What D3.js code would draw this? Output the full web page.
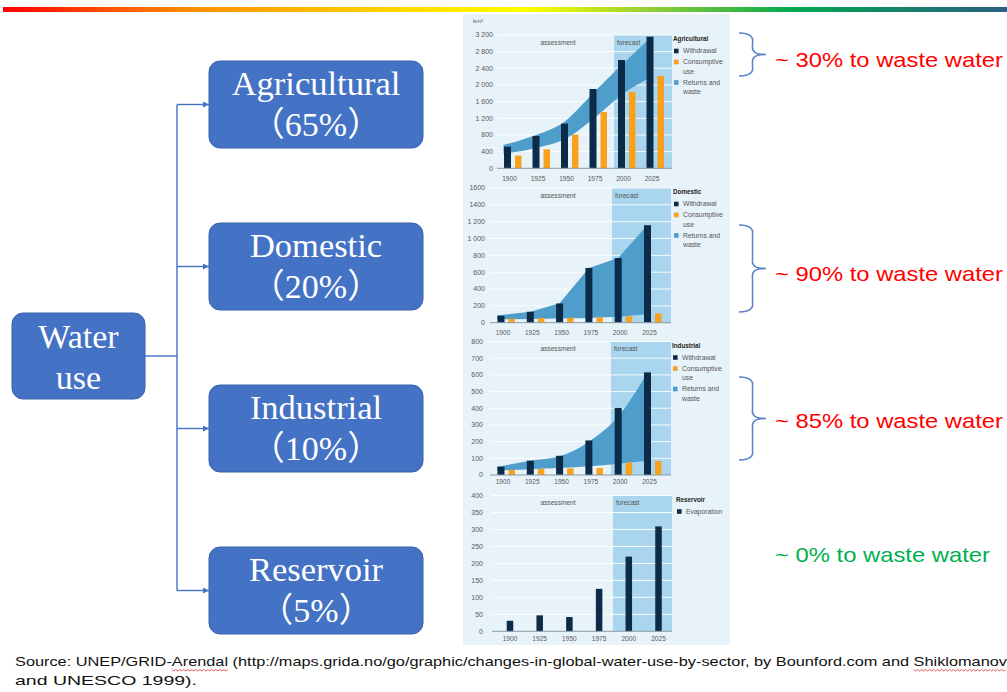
<!DOCTYPE html>
<html>
<head>
<meta charset="utf-8">
<script src="https://cdn.jsdelivr.net/npm/d3@7"></script>
<style>
  body { margin: 0; background: #fff; }
  svg { display: block; }
</style>
</head>
<body>
<svg id="slide" width="1007" height="692"></svg>
<script>
// --- data ---
const years = ["1900", "1925", "1950", "1975", "2000", "2025"];

const agriWithdrawal = [520, 776, 1072, 1904, 2600, 3160];
const agriConsumptive = [304, 456, 808, 1352, 1832, 2216];
const agriReturnsHigh = [560, 800, 1120, 1800, 2480, 3120];
const agriReturnsLow = [350, 490, 700, 1180, 1760, 2180];

const domWithdrawal = [83, 130, 228, 650, 768, 1158];
const domConsumptive = [47, 55, 59, 63, 75, 110];
const domReturnsHigh = [85, 130, 230, 650, 770, 1160];
const domReturnsLow = [40, 45, 50, 55, 70, 100];

const indWithdrawal = [50, 86, 115, 207, 402, 615];
const indConsumptive = [30, 36, 40, 42, 74, 84];
const indReturnsHigh = [48, 85, 112, 200, 350, 612];
const indReturnsLow = [28, 35, 42, 52, 68, 85];

const resEvaporation = [31, 47, 42, 125, 220, 309];

const agriTicks = [0, 400, 800, 1200, 1600, 2000, 2400, 2800, 3200];
const agriTickLabels = ["0", "400", "800", "1 200", "1 600", "2 000", "2 400", "2 800", "3 200"];
const domTicks = [0, 200, 400, 600, 800, 1000, 1200, 1400, 1600];
const domTickLabels = ["0", "200", "400", "600", "800", "1 000", "1 200", "1400", "1600"];
const indTicks = [0, 100, 200, 300, 400, 500, 600, 700, 800];
const indTickLabels = ["0", "100", "200", "300", "400", "500", "600", "700", "800"];
const resTicks = [0, 50, 100, 150, 200, 250, 300, 350, 400];
const resTickLabels = ["0", "50", "100", "150", "200", "250", "300", "350", "400"];

const sectors = ["Agricultural", "Domestic", "Industrial", "Reservoir"];
const sectorShares = ["（65%）", "（20%）", "（10%）", "（5%）"];
const wasteNotes = ["~ 30% to waste water", "~ 90% to waste water", "~ 85% to waste water", "~ 0% to waste water"];

// colours
const DARK = "#0c2b48";
const ORANGE = "#f8a11c";
const BAND = "#4f9dcb";
const FORECAST = "#a9d6ee";
const PANEL_BG = "#e7f2f9";
const BOX = "#4472c4";

const svg = d3.select("#slide");

// top rainbow strip
const defs = svg.append("defs");
const grad = defs.append("linearGradient").attr("id", "rainbow");
[["0%", "#ff0000"], ["18%", "#ff8a00"], ["36%", "#ffcc00"], ["52%", "#ffff00"], ["63%", "#9fd431"],
 ["79%", "#00a651"], ["100%", "#2b5f82"]].forEach(s => {
  grad.append("stop").attr("offset", s[0]).attr("stop-color", s[1]);
});
svg.append("rect").attr("x", 3).attr("y", 7).attr("width", 1004).attr("height", 5).attr("fill", "url(#rainbow)");

// chart panel background
svg.append("rect").attr("x", 463).attr("y", 14).attr("width", 267).attr("height", 631).attr("fill", PANEL_BG);

const panels = [
  { title: "Agricultural", top: 35, base: 168.3, max: 3200, ticks: agriTicks, tickLabels: agriTickLabels,
    labelRight: 493, gridX0: 497, cx0: 507.5, cx5: 650, fcL: 614, fcR: 672, xLabelY: 181, legendX: 673,
    withdrawal: agriWithdrawal, consumptive: agriConsumptive, high: agriReturnsHigh, low: agriReturnsLow,
    curve: d3.curveMonotoneX, unit: "km³" },
  { title: "Domestic", top: 188, base: 322.7, max: 1600, ticks: domTicks, tickLabels: domTickLabels,
    labelRight: 485, gridX0: 490, cx0: 501, cx5: 647.5, fcL: 612, fcR: 671, xLabelY: 335, legendX: 673,
    withdrawal: domWithdrawal, consumptive: domConsumptive, high: domReturnsHigh, low: domReturnsLow,
    curve: d3.curveLinear },
  { title: "Industrial", top: 341.5, base: 475, max: 800, ticks: indTicks, tickLabels: indTickLabels,
    labelRight: 483, gridX0: 490, cx0: 501, cx5: 647.5, fcL: 611, fcR: 671, xLabelY: 484, legendX: 672,
    withdrawal: indWithdrawal, consumptive: indConsumptive, high: indReturnsHigh, low: indReturnsLow,
    curve: d3.curveMonotoneX },
  { title: "Reservoir", top: 495.5, base: 631.3, max: 400, ticks: resTicks, tickLabels: resTickLabels,
    labelRight: 483, gridX0: 492, cx0: 510, cx5: 658.5, fcL: 613, fcR: 672, xLabelY: 641, legendX: 676,
    withdrawal: resEvaporation, centred: true }
];

panels.forEach(drawPanel);

function drawPanel(p) {
  const g = svg.append("g").attr("font-family", "Liberation Sans, Arial, sans-serif");
  const y = d3.scaleLinear().domain([0, p.max]).range([p.base, p.top]);
  const x = d3.scalePoint().domain(years).range([p.cx0, p.cx5]);

  // forecast shading
  g.append("rect")
    .attr("x", p.fcL).attr("y", p.top)
    .attr("width", p.fcR - p.fcL).attr("height", p.base - p.top)
    .attr("fill", FORECAST);

  // white grid lines
  g.selectAll("line.grid")
    .data(p.ticks.filter(t => t > 0))
    .join("line")
    .attr("class", "grid")
    .attr("x1", p.gridX0).attr("x2", p.fcR)
    .attr("y1", d => y(d)).attr("y2", d => y(d))
    .attr("stroke", "#fff").attr("stroke-width", 0.9);

  // returns and waste band
  if (p.high) {
    const area = d3.area()
      .x((d, i) => x(years[i]) - (i === 0 ? 4 : 0))
      .y0((d, i) => y(p.low[i]))
      .y1(d => y(d))
      .curve(p.curve);
    g.append("path").datum(p.high).attr("d", area).attr("fill", BAND);
  }

  // bars
  const wWidth = p.centred ? 6.5 : 7;
  g.selectAll("rect.w")
    .data(p.withdrawal)
    .join("rect")
    .attr("class", "w")
    .attr("x", (d, i) => x(years[i]) - wWidth / 2)
    .attr("y", d => y(d))
    .attr("width", wWidth)
    .attr("height", d => y(0) - y(d))
    .attr("fill", DARK);

  if (p.consumptive) {
    g.selectAll("rect.c")
      .data(p.consumptive)
      .join("rect")
      .attr("class", "c")
      .attr("x", (d, i) => x(years[i]) + 7.5)
      .attr("y", d => y(d))
      .attr("width", 6.5)
      .attr("height", d => y(0) - y(d))
      .attr("fill", ORANGE);
  }

  // baseline
  g.append("line")
    .attr("x1", p.gridX0).attr("x2", p.fcR)
    .attr("y1", y(0)).attr("y2", y(0))
    .attr("stroke", "#8c9aa4").attr("stroke-width", 1);

  // y tick labels
  g.selectAll("text.yt")
    .data(p.ticks)
    .join("text")
    .attr("class", "yt")
    .attr("x", p.labelRight)
    .attr("y", d => y(d))
    .attr("dy", "0.35em")
    .attr("text-anchor", "end")
    .attr("font-size", 7)
    .attr("fill", "#5a5a5a")
    .text((d, i) => p.tickLabels[i]);

  // x labels
  g.selectAll("text.xt")
    .data(years)
    .join("text")
    .attr("class", "xt")
    .attr("x", d => x(d) + (p.centred ? 0 : 2))
    .attr("y", p.xLabelY)
    .attr("text-anchor", "middle")
    .attr("font-size", 6.6)
    .attr("fill", "#5a5a5a")
    .text(d => d);

  if (p.unit) {
    g.append("text").attr("x", 473).attr("y", 23).attr("font-size", 6).attr("fill", "#5a5a5a").text(p.unit);
  }

  // period labels
  g.append("text")
    .attr("x", 558).attr("y", p.top + 9.5)
    .attr("text-anchor", "middle").attr("font-size", 6.6).attr("fill", "#555")
    .text("assessment");
  g.append("text")
    .attr("x", p.fcL + 3).attr("y", p.top + 9.5)
    .attr("font-size", 6.6).attr("fill", "#555")
    .text("forecast");

  // legend
  g.append("text")
    .attr("x", p.legendX).attr("y", p.top + 4).attr("dy", "0.35em")
    .attr("font-size", 6.3).attr("font-weight", "bold").attr("fill", "#222")
    .text(p.title);

  const items = p.consumptive
    ? [{ c: DARK, lines: ["Withdrawal"] }, { c: ORANGE, lines: ["Consumptive", "use"] }, { c: BAND, lines: ["Returns and", "waste"] }]
    : [{ c: DARK, lines: ["Evaporation"] }];
  let ly = p.top + 16;
  items.forEach(it => {
    g.append("rect")
      .attr("x", p.legendX + 1).attr("y", ly - 2.3)
      .attr("width", 4.6).attr("height", 4.6)
      .attr("fill", it.c);
    it.lines.forEach((t, j) => {
      g.append("text")
        .attr("x", p.legendX + 10).attr("y", ly + j * 9.5).attr("dy", "0.35em")
        .attr("font-size", 6.8).attr("fill", "#555")
        .text(t);
    });
    ly += it.lines.length * 9.5 + 1.5;
  });
}

// --- left diagram ---
const boxTop = d3.scalePoint().domain(sectors).range([61, 547]);
const BOX_H = 87;

defs.append("marker")
  .attr("id", "arrow")
  .attr("viewBox", "0 0 10 10")
  .attr("refX", 10).attr("refY", 5)
  .attr("markerWidth", 6).attr("markerHeight", 6)
  .attr("markerUnits", "userSpaceOnUse")
  .attr("orient", "auto")
  .append("path").attr("d", "M0,0 L10,5 L0,10 z").attr("fill", BOX);

const trunkX = 177;
svg.append("line")
  .attr("x1", trunkX).attr("x2", trunkX)
  .attr("y1", boxTop("Agricultural") + BOX_H / 2).attr("y2", boxTop("Reservoir") + BOX_H / 2)
  .attr("stroke", BOX).attr("stroke-width", 1.4);
svg.append("line")
  .attr("x1", 145).attr("x2", trunkX).attr("y1", 356).attr("y2", 356)
  .attr("stroke", BOX).attr("stroke-width", 1.4);

sectors.forEach((s, i) => {
  const t = boxTop(s);
  svg.append("line")
    .attr("x1", trunkX).attr("x2", 209)
    .attr("y1", t + BOX_H / 2).attr("y2", t + BOX_H / 2)
    .attr("stroke", BOX).attr("stroke-width", 1.4)
    .attr("marker-end", "url(#arrow)");
  svg.append("rect")
    .attr("x", 209).attr("y", t).attr("width", 214).attr("height", BOX_H)
    .attr("rx", 11).attr("fill", BOX).attr("stroke", "#3a63ab").attr("stroke-width", 1);
  svg.append("text")
    .attr("x", 316).attr("y", t + 34)
    .attr("text-anchor", "middle")
    .attr("font-family", "Liberation Serif, Times New Roman, serif")
    .attr("font-size", 34.5).attr("fill", "#fff")
    .text(s);
  svg.append("text")
    .attr("x", 316).attr("y", t + 75)
    .attr("text-anchor", "middle")
    .attr("font-family", "Liberation Serif, Noto Sans CJK SC, serif")
    .attr("font-size", 34).attr("fill", "#fff")
    .text(sectorShares[i]);
});

svg.append("rect")
  .attr("x", 12).attr("y", 313).attr("width", 133).attr("height", 86)
  .attr("rx", 11).attr("fill", BOX).attr("stroke", "#3a63ab").attr("stroke-width", 1);
[["Water", 348], ["use", 389]].forEach(d => {
  svg.append("text")
    .attr("x", 78.5).attr("y", d[1])
    .attr("text-anchor", "middle")
    .attr("font-family", "Liberation Serif, Times New Roman, serif")
    .attr("font-size", 34).attr("fill", "#fff")
    .text(d[0]);
});

// --- braces and waste notes ---
const braces = [[33, 76], [225, 312], [377, 460]];
braces.forEach(b => {
  const x0 = 739, w = 27, xm = x0 + w / 2, ym = (b[0] + b[1]) / 2, r = 9;
  const d = `M${x0},${b[0]} C${xm - 2},${b[0]} ${xm + 1},${b[0] + r / 2} ${xm},${b[0] + r} ` +
            `L${xm},${ym - r} C${xm - 1},${ym - 2} ${xm + 4},${ym} ${x0 + w},${ym} ` +
            `C${xm + 4},${ym} ${xm - 1},${ym + 2} ${xm},${ym + r} ` +
            `L${xm},${b[1] - r} C${xm + 1},${b[1] - r / 2} ${xm - 2},${b[1]} ${x0},${b[1]}`;
  svg.append("path").attr("d", d).attr("fill", "none").attr("stroke", "#5b82c6").attr("stroke-width", 1.5);
});

const noteY = [67, 281, 428, 562];
wasteNotes.forEach((t, i) => {
  svg.append("text")
    .attr("x", 775).attr("y", noteY[i])
    .attr("font-family", "Liberation Sans, Arial, sans-serif")
    .attr("font-size", 21)
    .attr("fill", i === 3 ? "#00b050" : "#ff0000")
    .attr("textLength", i === 3 ? 215 : 228)
    .attr("lengthAdjust", "spacingAndGlyphs")
    .text(t);
});

// --- source line ---
const src1 = svg.append("text")
  .attr("x", 15).attr("y", 666)
  .attr("font-family", "Liberation Sans, Arial, sans-serif")
  .attr("font-size", 13).attr("fill", "#111")
  .attr("textLength", 992).attr("lengthAdjust", "spacingAndGlyphs")
  .text("Source: UNEP/GRID-Arendal (http://maps.grida.no/go/graphic/changes-in-global-water-use-by-sector, by Bounford.com and Shiklomanov");
svg.append("text")
  .attr("x", 15).attr("y", 685)
  .attr("font-family", "Liberation Sans, Arial, sans-serif")
  .attr("font-size", 13).attr("fill", "#111")
  .attr("textLength", 182).attr("lengthAdjust", "spacingAndGlyphs")
  .text("and UNESCO 1999).");

// spell-check squiggles under two words
function squiggle(word) {
  const node = src1.node();
  const str = node.textContent;
  const i0 = str.indexOf(word);
  const a = node.getExtentOfChar(i0);
  const b = node.getExtentOfChar(i0 + word.length - 1);
  const xs = a.x, xe = Math.min(b.x + b.width, 1006), yy = 669.5;
  if (!(xe > xs)) return;
  let d = `M${xs},${yy}`;
  for (let xx = xs, k = 0; xx + 2 <= xe; xx += 2, k++) d += ` L${xx + 2},${yy + (k % 2 ? 0 : 1.5)}`;
  svg.append("path").attr("d", d).attr("fill", "none").attr("stroke", "#e03030").attr("stroke-width", 0.8);
}
squiggle("Arendal");
squiggle("Shiklomanov");
</script>
</body>
</html>
